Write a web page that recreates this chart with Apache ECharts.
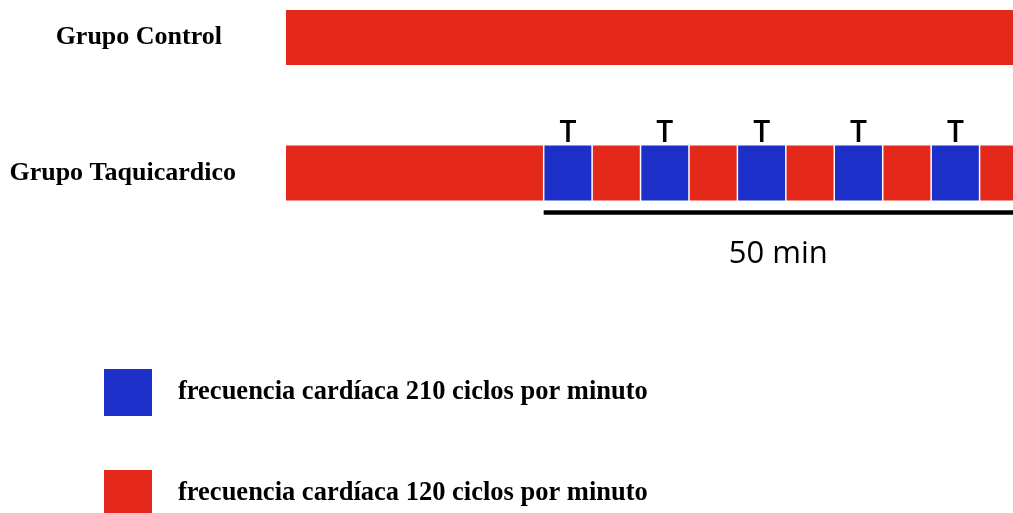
<!DOCTYPE html>
<html>
<head>
<meta charset="utf-8">
<script src="https://cdn.jsdelivr.net/npm/echarts@6/dist/echarts.min.js"></script>
<style>
html, body { margin: 0; padding: 0; background: #fff; }
#chart-container { width: 1013px; height: 513px; }
</style>
</head>
<body>
<div id="chart-container"></div>
<script>
var dom = document.getElementById('chart-container');
var myChart = echarts.init(dom, null, { renderer: 'canvas' });

// groups (rows), top to bottom
var groups = ['Grupo Control', 'Grupo Taquicardico'];
// heart rates shown in the legend, and their names
var rates = [210, 120];
var rateNames = [
    'frecuencia cardíaca 210 ciclos por minuto',
    'frecuencia cardíaca 120 ciclos por minuto'
];
// minutes, 0 = start of the pacing protocol
var baselineStart = -26.6;
var controlEnd = 60;
var phaseMinutes = 5;
var tachyPhases = [210, 120, 210, 120, 210, 120, 210, 120, 210, 120];
var protocolMinutes = 50;
var pacingMark = 'T';

var colors = { 210: '#1c2fc8', 120: '#e4281a' };
var barHeight = 55;

// segments: [row, start, end, rate]
var segments = [];
segments.push([0, baselineStart, controlEnd, 120]);
segments.push([1, baselineStart, 0, 120]);
tachyPhases.forEach(function (rate, i) {
    segments.push([1, i * phaseMinutes, (i + 1) * phaseMinutes, rate]);
});

var groupLabelGap = [64, 50];

function renderSegment(params, api) {
    var row = api.value(0);
    var s = api.value(1);
    var e = api.value(2);
    var rate = api.value(3);
    var p0 = api.coord([s, row]);
    var p1 = api.coord([e, row]);
    var gapL = (row === 1 && s >= 0) ? 0.75 : 0;
    var gapR = row === 1 ? 0.75 : 0;
    var children = [{
        type: 'rect',
        shape: {
            x: p0[0] + gapL,
            y: p0[1] - barHeight / 2,
            width: p1[0] - p0[0] - gapL - gapR,
            height: barHeight
        },
        style: { fill: api.visual('color') }
    }];
    if (s === baselineStart) {
        children.push({
            type: 'text',
            x: p0[0] - groupLabelGap[row],
            y: p0[1],
            style: {
                text: groups[row],
                font: 'bold 26px "Liberation Serif"',
                fill: '#000',
                align: 'right',
                verticalAlign: 'middle'
            }
        });
    }
    if (rate === 210) {
        children.push({
            type: 'text',
            x: (p0[0] + p1[0]) / 2,
            y: p0[1] - barHeight / 2 - 12,
            style: {
                text: pacingMark,
                font: '600 30px "Open Sans"',
                fill: '#000',
                align: 'center',
                verticalAlign: 'middle'
            }
        });
    }
    return { type: 'group', children: children };
}

function renderBracket(params, api) {
    var p0 = api.coord([api.value(0), api.value(2)]);
    var p1 = api.coord([api.value(1), api.value(2)]);
    var y = p0[1] + 39.5;
    return {
        type: 'group',
        children: [{
            type: 'line',
            shape: { x1: p0[0], y1: y, x2: p1[0], y2: y },
            style: { stroke: '#000', lineWidth: 4.5 }
        }, {
            type: 'text',
            x: (p0[0] + p1[0]) / 2 - 7.5,
            y: y + 42,
            style: {
                text: api.value(1) - api.value(0) + ' min',
                font: '500 31px "Open Sans"',
                fill: '#000',
                align: 'center',
                verticalAlign: 'middle'
            }
        }]
    };
}

var option = {
    animation: false,
    backgroundColor: '#fff',
    grid: { left: 286, right: 0, top: 3.625, height: 203.25 },
    xAxis: { type: 'value', min: baselineStart, max: 48.45, show: false },
    yAxis: { type: 'value', min: -0.25, max: 1.25, inverse: true, show: false },
    legend: {
        orient: 'vertical',
        left: 104,
        top: 369,
        height: 200,
        width: 700,
        padding: 0,
        itemWidth: 48,
        itemHeight: 47,
        itemGap: 54,
        icon: 'rect',
        selectedMode: false,
        data: rateNames,
        textStyle: {
            fontFamily: 'Liberation Serif',
            fontWeight: 'bold',
            fontSize: 26.5,
            color: '#000',
            padding: [7, 0, 0, 21]
        }
    },
    series: rates.map(function (rate, i) {
        return {
            name: rateNames[i],
            type: 'custom',
            renderItem: renderSegment,
            itemStyle: { color: colors[rate] },
            encode: { x: [1, 2], y: 0 },
            data: segments.filter(function (d) { return d[3] === rate; })
        };
    }).concat([{
        name: 'bracket',
        type: 'custom',
        renderItem: renderBracket,
        encode: { x: [0, 1], y: 2 },
        data: [[0, protocolMinutes, 1]]
    }])
};

myChart.setOption(option);
window.addEventListener('resize', myChart.resize);
</script>
</body>
</html>
